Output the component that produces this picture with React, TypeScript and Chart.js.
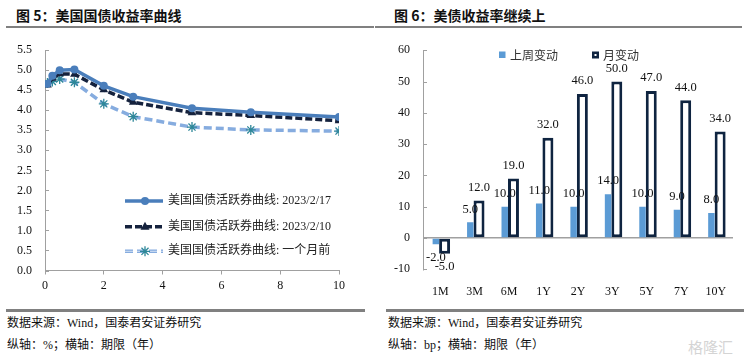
import React, { useEffect, useRef } from 'react';
import { Chart, registerables } from 'chart.js';
Chart.register(...registerables);

const SERIF = "'Liberation Serif', 'Noto Sans CJK SC', serif";
const CJK = "'Noto Sans CJK SC', 'Liberation Serif', sans-serif";

// ---- Figure 5: US Treasury yield curve ----
const tenorYears = [1 / 12, 0.25, 0.5, 1, 2, 3, 5, 7, 10];
const curve0217 = [4.66, 4.86, 5.0, 5.02, 4.61, 4.34, 4.05, 3.95, 3.83];
const curve0210 = [4.63, 4.8, 4.91, 4.9, 4.51, 4.2, 3.94, 3.87, 3.74];
const curveMonthAgo = [4.68, 4.72, 4.78, 4.7, 4.16, 3.84, 3.58, 3.51, 3.48];
const curveLabels = [
  '美国国债活跃券曲线: 2023/2/17',
  '美国国债活跃券曲线: 2023/2/10',
  '美国国债活跃券曲线: 一个月前',
];

// ---- Figure 6: changes in bp ----
const tenorCats = ['1M', '3M', '6M', '1Y', '2Y', '3Y', '5Y', '7Y', '10Y'];
const weekChange = [-2, 5, 10, 11, 10, 14, 10, 9, 8];
const monthChange = [-5, 12, 19, 32, 46, 50, 47, 44, 34];
const barLabels = ['上周变动', '月变动'];

const C1 = '#4A7EBB';
const C2 = '#15223D';
const C3 = '#86ACDF';
const C3M = '#2E8799';
const BLUE = '#5B9BD5';
const DARK = '#0F2440';
const AXIS = '#A0A0A0';

function insideTicks(scaleId: string, len: number) {
  return {
    id: 'insideTicks_' + scaleId,
    afterDraw(chart: any) {
      const s = chart.scales[scaleId];
      const ctx = chart.ctx;
      ctx.save();
      ctx.strokeStyle = AXIS;
      ctx.lineWidth = 1;
      s.ticks.forEach((t: any) => {
        const py = Math.round(s.getPixelForValue(t.value)) + 0.5;
        ctx.beginPath();
        ctx.moveTo(s.right, py);
        ctx.lineTo(s.right + len, py);
        ctx.stroke();
      });
      ctx.restore();
    },
  };
}

function YieldChart() {
  const ref = useRef<HTMLCanvasElement>(null);
  useEffect(() => {
    const legendPlugin = {
      id: 'leftLegend',
      afterDraw(chart: any) {
        const ctx = chart.ctx;
        const rows = [171, 196.7, 221.3];
        ctx.save();
        // row 1
        ctx.strokeStyle = C1;
        ctx.lineWidth = 3.5;
        ctx.beginPath();
        ctx.moveTo(125, rows[0]);
        ctx.lineTo(163, rows[0]);
        ctx.stroke();
        ctx.fillStyle = C1;
        ctx.beginPath();
        ctx.arc(145, rows[0], 4, 0, Math.PI * 2);
        ctx.fill();
        // row 2
        ctx.strokeStyle = C2;
        ctx.lineWidth = 3.5;
        ctx.setLineDash([7, 3]);
        ctx.beginPath();
        ctx.moveTo(125, rows[1]);
        ctx.lineTo(163, rows[1]);
        ctx.stroke();
        ctx.setLineDash([]);
        ctx.fillStyle = C2;
        ctx.beginPath();
        ctx.moveTo(145, rows[1] - 5);
        ctx.lineTo(149.5, rows[1] + 3);
        ctx.lineTo(140.5, rows[1] + 3);
        ctx.closePath();
        ctx.fill();
        // row 3
        ctx.strokeStyle = C3;
        ctx.lineWidth = 3.5;
        ctx.setLineDash([8, 4]);
        ctx.beginPath();
        ctx.moveTo(125, rows[2]);
        ctx.lineTo(163, rows[2]);
        ctx.stroke();
        ctx.strokeStyle = 'rgba(255,255,255,0.65)';
        ctx.lineWidth = 1;
        ctx.beginPath();
        ctx.moveTo(125, rows[2]);
        ctx.lineTo(163, rows[2]);
        ctx.stroke();
        ctx.setLineDash([]);
        ctx.strokeStyle = C3M;
        ctx.lineWidth = 1.3;
        const r = 5;
        ctx.beginPath();
        ctx.moveTo(145 - r, rows[2]);
        ctx.lineTo(145 + r, rows[2]);
        ctx.moveTo(145, rows[2] - r);
        ctx.lineTo(145, rows[2] + r);
        const d = r * 0.707;
        ctx.moveTo(145 - d, rows[2] - d);
        ctx.lineTo(145 + d, rows[2] + d);
        ctx.moveTo(145 - d, rows[2] + d);
        ctx.lineTo(145 + d, rows[2] - d);
        ctx.stroke();
        // texts
        ctx.fillStyle = '#222';
        ctx.font = '12px ' + SERIF;
        ctx.textBaseline = 'middle';
        ctx.textAlign = 'left';
        curveLabels.forEach((t, i) => ctx.fillText(t, 168, rows[i]));
        ctx.restore();
      },
    };
    const toXY = (arr: number[]) => arr.map((v, i) => ({ x: tenorYears[i], y: v }));
    const chart = new Chart(ref.current!, {
      type: 'line',
      data: {
        datasets: [
          {
            label: curveLabels[0],
            data: toXY(curve0217),
            borderColor: C1,
            backgroundColor: C1,
            borderWidth: 3.5,
            pointStyle: 'circle',
            pointRadius: 4,
            pointBorderWidth: 0,
            pointBackgroundColor: C1,
          },
          {
            label: curveLabels[1],
            data: toXY(curve0210),
            borderColor: C2,
            backgroundColor: C2,
            borderWidth: 3.5,
            borderDash: [7, 3],
            pointStyle: 'triangle',
            pointRadius: 5,
            pointBorderWidth: 0,
            pointBackgroundColor: C2,
          },
          {
            label: curveLabels[2],
            data: toXY(curveMonthAgo),
            borderColor: C3,
            backgroundColor: C3M,
            borderWidth: 3.5,
            borderDash: [8, 4],
            pointStyle: 'star',
            pointRadius: 5,
            pointBorderWidth: 1.3,
            pointBorderColor: C3M,
          },
          {
            label: 'overlay',
            data: toXY(curveMonthAgo),
            borderColor: 'rgba(255,255,255,0.65)',
            borderWidth: 1,
            borderDash: [8, 4],
            pointRadius: 0,
          },
        ],
      },
      options: {
        responsive: false,
        animation: false,
        layout: { padding: { left: 0, top: 19, right: 21, bottom: 0 } },
        plugins: { legend: { display: false }, tooltip: { enabled: false } },
        scales: {
          x: {
            type: 'linear',
            min: 0,
            max: 10,
            ticks: { stepSize: 2, font: { size: 12, family: SERIF }, color: '#111', padding: 4 },
            grid: { drawOnChartArea: false, drawTicks: true, tickLength: 4, color: AXIS },
            border: { display: true, color: AXIS },
            afterFit: (s: any) => {
              s.height = 29.5;
            },
          },
          y: {
            min: 0,
            max: 5.5,
            ticks: {
              stepSize: 0.5,
              font: { size: 12, family: SERIF },
              color: '#111',
              padding: 13,
              callback: (v: any) => Number(v).toFixed(1),
            },
            grid: { drawOnChartArea: false, drawTicks: false },
            border: { display: true, color: AXIS },
            afterFit: (s: any) => {
              s.width = 45;
            },
          },
        },
      },
      plugins: [insideTicks('y', 4), legendPlugin],
    } as any);
    return () => chart.destroy();
  }, []);
  return <canvas ref={ref} width={360} height={270} style={{ position: 'absolute', left: 0, top: 30 }} />;
}

function ChangeChart() {
  const ref = useRef<HTMLCanvasElement>(null);
  useEffect(() => {
    const labelPlugin = {
      id: 'barLabels',
      afterDatasetsDraw(chart: any) {
        const ctx = chart.ctx;
        ctx.save();
        ctx.fillStyle = '#111';
        ctx.font = '12.5px ' + SERIF;
        ctx.textAlign = 'center';
        ctx.textBaseline = 'middle';
        chart.data.datasets.forEach((ds: any, di: number) => {
          const meta = chart.getDatasetMeta(di);
          meta.data.forEach((el: any, i: number) => {
            const v = ds.data[i];
            const y = v >= 0 ? el.y - 13 : el.y + 13;
            ctx.fillText(Number(v).toFixed(1), el.x, y);
          });
        });
        ctx.restore();
      },
    };
    const legendPlugin = {
      id: 'rightLegend',
      afterDraw(chart: any) {
        const ctx = chart.ctx;
        ctx.save();
        ctx.fillStyle = BLUE;
        ctx.fillRect(124, 21.5, 6.5, 6.5);
        ctx.fillStyle = DARK;
        ctx.fillRect(217, 21.5, 7, 7);
        ctx.fillStyle = '#fff';
        ctx.fillRect(219.5, 24, 2, 2);
        ctx.fillStyle = '#333';
        ctx.font = '12px ' + CJK;
        ctx.textBaseline = 'middle';
        ctx.textAlign = 'left';
        ctx.fillText(barLabels[0], 135, 25);
        ctx.fillText(barLabels[1], 228, 25);
        ctx.restore();
      },
    };
    const chart = new Chart(ref.current!, {
      type: 'bar',
      data: {
        labels: tenorCats,
        datasets: [
          {
            label: barLabels[0],
            data: weekChange,
            backgroundColor: BLUE,
            borderWidth: 0,
            categoryPercentage: 0.507,
            barPercentage: 0.743,
          },
          {
            label: barLabels[1],
            data: monthChange,
            backgroundColor: '#ffffff',
            borderColor: DARK,
            borderWidth: 3,
            borderSkipped: false,
            categoryPercentage: 0.507,
            barPercentage: 1.257,
          },
        ],
      },
      options: {
        responsive: false,
        animation: false,
        layout: { padding: { left: 0, top: 17.3, right: 16, bottom: 0 } },
        plugins: { legend: { display: false }, tooltip: { enabled: false } },
        scales: {
          x: {
            ticks: { font: { size: 12, family: SERIF }, color: '#111', padding: 7.5 },
            grid: { display: false },
            border: { display: false },
            afterFit: (s: any) => {
              s.height = 30.7;
            },
          },
          y: {
            min: -10,
            max: 60,
            ticks: { stepSize: 10, font: { size: 12, family: SERIF }, color: '#111', padding: 13 },
            grid: {
              drawOnChartArea: true,
              drawTicks: false,
              lineWidth: 1.5,
              color: (c: any) => (c.tick && c.tick.value === 0 ? AXIS : 'rgba(0,0,0,0)'),
            },
            border: { display: true, color: AXIS },
            afterFit: (s: any) => {
              s.width = 48;
            },
          },
        },
      },
      plugins: [insideTicks('y', 4), labelPlugin, legendPlugin],
    } as any);
    return () => chart.destroy();
  }, []);
  return <canvas ref={ref} width={374} height={270} style={{ position: 'absolute', left: 375, top: 30 }} />;
}

const abs = (s: React.CSSProperties): React.CSSProperties => ({ position: 'absolute', ...s });

export default function App() {
  const title: React.CSSProperties = {
    fontFamily: CJK,
    fontWeight: 700,
    fontSize: 14,
    lineHeight: '18px',
    color: '#111',
    whiteSpace: 'nowrap',
  };
  const foot: React.CSSProperties = {
    fontFamily: SERIF,
    fontSize: 12,
    lineHeight: '16px',
    color: '#111',
    whiteSpace: 'nowrap',
  };
  return (
    <div style={{ position: 'fixed', left: 0, top: 0, width: 749, height: 363, background: '#fff', overflow: 'hidden' }}>
      <div style={abs({ ...title, left: 16, top: 6 })}>图 5：美国国债收益率曲线</div>
      <div style={abs({ ...title, left: 394, top: 6 })}>图 6：美债收益率继续上</div>
      <div style={abs({ left: 6, top: 26, width: 368, height: 2, background: '#808080' })} />
      <div style={abs({ left: 375, top: 26, width: 367, height: 2, background: '#808080' })} />
      <YieldChart />
      <ChangeChart />
      <div style={abs({ left: 6, top: 309, width: 359, height: 2.5, background: '#808080' })} />
      <div style={abs({ left: 386, top: 309, width: 358, height: 2.5, background: '#808080' })} />
      <div style={abs({ ...foot, left: 7, top: 315 })}>数据来源：Wind，国泰君安证券研究</div>
      <div style={abs({ ...foot, left: 7, top: 337 })}>纵轴：%；横轴：期限（年）</div>
      <div style={abs({ ...foot, left: 388, top: 315 })}>数据来源：Wind，国泰君安证券研究</div>
      <div style={abs({ ...foot, left: 388, top: 337 })}>纵轴：bp；横轴：期限（年）</div>
      <div style={abs({ left: 688, top: 336, fontFamily: CJK, fontSize: 15, color: '#d4d4d4', whiteSpace: 'nowrap' })}>格隆汇</div>
    </div>
  );
}
